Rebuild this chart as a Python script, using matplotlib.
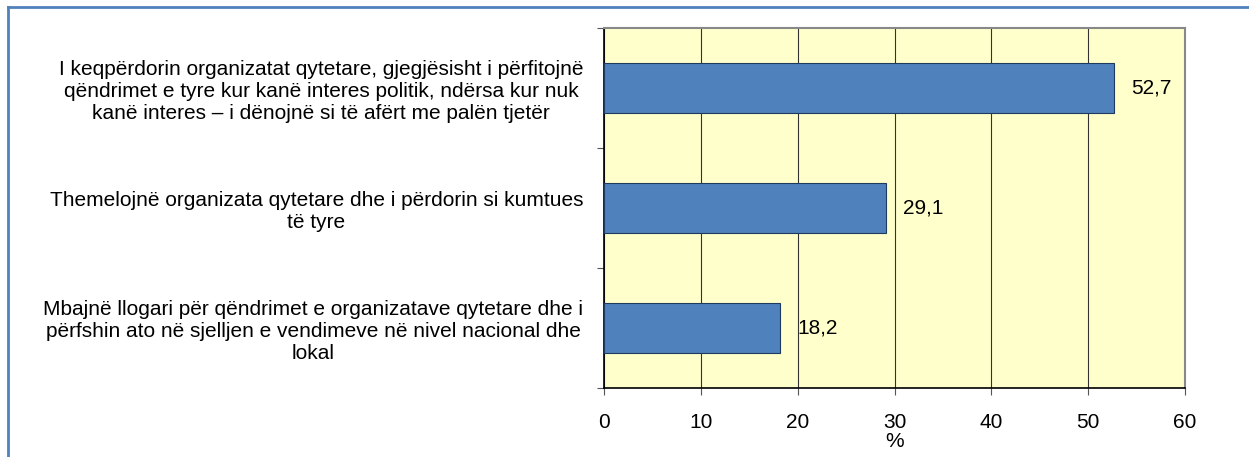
import matplotlib
matplotlib.use("Agg")
import matplotlib.pyplot as plt
from matplotlib.lines import Line2D

plt.rcParams['font.family'] = ['Liberation Sans', 'DejaVu Sans']

categories = [
    "I keqpërdorin organizatat qytetare, gjegjësisht i përfitojnë\nqëndrimet e tyre kur kanë interes politik, ndërsa kur nuk\nkanë interes – i dënojnë si të afërt me palën tjetër",
    "Themelojnë organizata qytetare dhe i përdorin si kumtues\ntë tyre",
    "Mbajnë llogari për qëndrimet e organizatave qytetare dhe i\npërfshin ato në sjelljen e vendimeve në nivel nacional dhe\nlokal",
]
values = [52.7, 29.1, 18.2]
value_labels = ["52,7", "29,1", "18,2"]
xticks = [0, 10, 20, 30, 40, 50, 60]

FS = 15
W, H = 1249, 457
fig = plt.figure(figsize=(W/100, H/100), dpi=100)
ax = fig.add_axes([604/W, 1-388/H, (1185-604)/W, (388-28)/H])
ax.set_facecolor('#FFFFCC')

n = len(categories)
ypos = [n - 1 - i + 0.5 for i in range(n)]
ax.barh(ypos, values, height=0.41, color='#4F81BD', edgecolor='#1F3A5F', linewidth=0.8, zorder=3)
for y, v, lab in zip(ypos, values, value_labels):
    ax.text(v + 1.75, y, lab, va='center', ha='left', fontsize=FS, zorder=4)

ax.set_xlim(0, 60)
ax.set_ylim(0, n)
ax.set_xticks(xticks)
ax.set_xticklabels([str(t) for t in xticks], fontsize=FS)
ax.set_yticks([0, 1, 2, 3])
ax.set_yticklabels([])
ax.set_yticks(ypos, minor=True)
ax.set_yticklabels(categories, minor=True, fontsize=FS, multialignment='center')
ax.tick_params(axis='y', which='minor', length=0, pad=15)
ax.tick_params(axis='y', which='major', length=5, direction='out', color='#555555')
ax.tick_params(axis='x', length=5, direction='out', pad=13, color='#555555')
ax.xaxis.grid(True, color='#333333', linewidth=0.8, zorder=1)
ax.set_axisbelow(True)
ax.text(0.5, -0.149, '%', transform=ax.transAxes, ha='center', va='center', fontsize=FS)

for s in ['top', 'right']:
    ax.spines[s].set_color('#888888')
    ax.spines[s].set_linewidth(1.5)
for s in ['left', 'bottom']:
    ax.spines[s].set_color('black')
    ax.spines[s].set_linewidth(1.2)

# outer frame (top and left visible)
fig.add_artist(Line2D([8/W, 1.0], [1-7/H, 1-7/H], transform=fig.transFigure, color='#4F81BD', linewidth=2))
fig.add_artist(Line2D([8/W, 8/W], [0, 1-7/H], transform=fig.transFigure, color='#4F81BD', linewidth=2))

fig.savefig('out.png', dpi=100)
